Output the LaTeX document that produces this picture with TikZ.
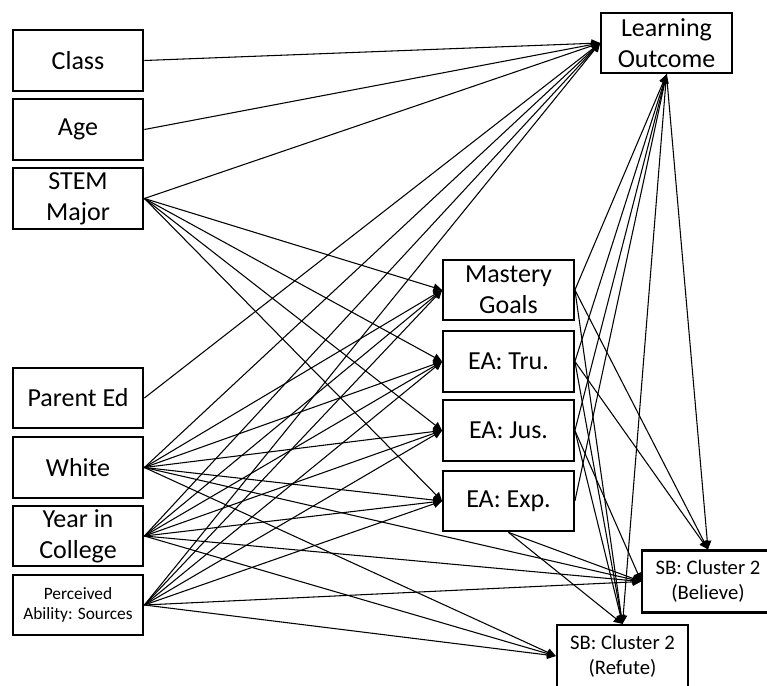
\documentclass[tikz,border=0pt]{standalone}
\usepackage{fontspec}
\setmainfont{Carlito}
\usetikzlibrary{arrows.meta}
\begin{document}
\begin{tikzpicture}[x=0.75pt,y=-0.75pt,
  box/.style={draw,line width=1.6pt,minimum width=98pt,minimum height=45.5pt,
    inner sep=0pt,align=center,font=\fontsize{19.5}{23.5}\selectfont},
  smallbox/.style={box,font=\fontsize{13}{15.5}\selectfont},
  sbbox/.style={box,minimum width=98.5pt,minimum height=46.5pt,
    font=\fontsize{15.5}{19}\selectfont},
  link/.style={line width=0.8pt,-{Triangle[length=6.5pt,width=6pt]}},
]
\useasboundingbox (0,0) rectangle (767,685);

% exogenous variables (left column)
\node[box] (class) at (78,60.5) {Class};
\node[box] (age)   at (78,129.5) {Age};
\node[box] (stem)  at (78,198.5) {STEM\\Major};
\node[box] (pe)    at (78,398) {Parent Ed};
\node[box] (white) at (78,467.5) {White};
\node[box] (year)  at (78,536) {Year in\\College};
\node[smallbox] (perc) at (78,605) {Perceived\\Ability: Sources};

% mediators (middle column)
\node[box] (mg)  at (508.5,290) {Mastery\\Goals};
\node[box] (tru) at (508.5,361.5) {EA: Tru.};
\node[box] (jus) at (508.5,430.5) {EA: Jus.};
\node[box] (exp) at (508.5,501) {EA: Exp.};

% outcomes
\node[box] (lo) at (666.5,43) {Learning\\Outcome};
\node[sbbox] (bel) at (708,581.5) {SB: Cluster 2\\(Believe)};
\node[sbbox] (ref) at (622.5,656) {SB: Cluster 2\\(Refute)};

% paths to the learning outcome
\foreach \s in {class,age,stem,pe,white,year,perc}
  \draw[link] (\s.east) -- (lo.west);
\foreach \s in {mg,tru,jus,exp}
  \draw[link] (\s.east) -- (lo.south);

% paths to the mediators
\foreach \s in {stem,white,year,perc}
  \foreach \t in {mg,tru,jus,exp}
    \draw[link] (\s.east) -- (\t.west);

% paths to the belief clusters
\foreach \s in {white,year,perc}
  \foreach \t in {bel,ref}
    \draw[link] (\s.east) -- (\t.west);
\draw[link] (mg.east)  -- (bel.north);
\draw[link] (tru.east) -- (bel.north);
\draw[link] (jus.east) -- (bel.west);
\draw[link] (exp.south) -- (bel.west);
\foreach \s in {mg,tru,jus}
  \draw[link] (\s.east) -- (ref.north);
\draw[link] (exp.south) -- (ref.north);
\draw[link] (lo.south) -- (bel.north);
\draw[link] (lo.south) -- (ref.north);
\end{tikzpicture}
\end{document}
